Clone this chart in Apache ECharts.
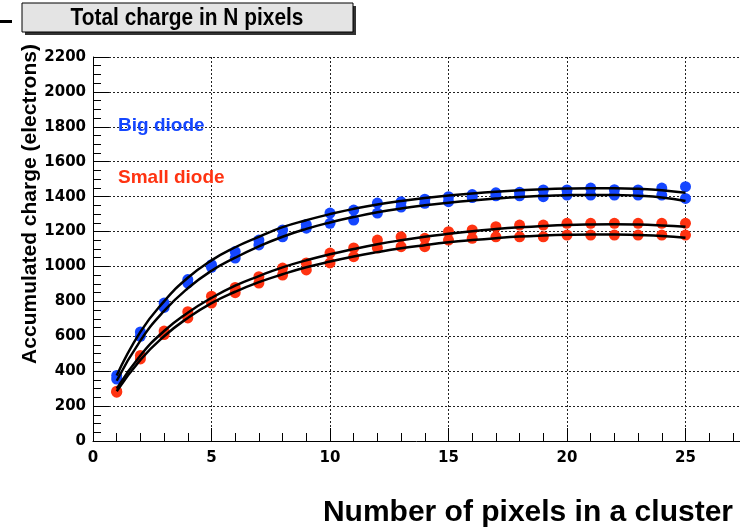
<!DOCTYPE html>
<html lang="en">

<head>
  <meta charset="UTF-8">
  <title>Total charge in N pixels</title>
  <style>
    html, body { margin: 0; padding: 0; background: #fff; }
    #chart { width: 740px; height: 531px; }
  </style>
</head>

<body>
  <div id="chart"></div>
  <script src="https://cdn.jsdelivr.net/npm/echarts@6/dist/echarts.min.js"></script>
  <script>
    // number of pixels in a cluster
    var pixels = [1, 2, 3, 4, 5, 6, 7, 8, 9, 10, 11, 12, 13, 14, 15, 16, 17, 18, 19, 20, 21, 22, 23, 24, 25];

    // measured points (two runs per diode type)
    var bigHigh = [375, 625, 790, 925, 1010, 1085, 1151, 1209, 1240, 1306, 1323, 1363, 1370, 1385, 1400, 1412, 1422, 1425, 1438, 1438, 1449, 1440, 1438, 1449, 1457];
    var bigLow = [355, 600, 765, 905, 995, 1048, 1123, 1170, 1219, 1247, 1266, 1306, 1340, 1362, 1371, 1395, 1405, 1405, 1400, 1409, 1409, 1409, 1409, 1409, 1390];
    var smallHigh = [285, 490, 630, 741, 830, 880, 941, 991, 1020, 1077, 1106, 1151, 1170, 1161, 1199, 1209, 1228, 1237, 1237, 1247, 1247, 1247, 1247, 1247, 1247];
    var smallLow = [280, 470, 610, 705, 790, 850, 905, 951, 980, 1020, 1056, 1106, 1113, 1113, 1151, 1161, 1170, 1170, 1170, 1180, 1180, 1180, 1180, 1180, 1180];

    // fitted curves
    var bigFitHigh = [375, 625, 800, 935, 1035, 1110, 1170, 1225, 1265, 1300, 1330, 1355, 1375, 1392, 1406, 1418, 1428, 1436, 1442, 1446, 1448, 1448, 1445, 1437, 1422];
    var bigFitLow = [345, 575, 745, 875, 975, 1050, 1115, 1170, 1215, 1252, 1283, 1310, 1332, 1350, 1365, 1378, 1389, 1398, 1404, 1408, 1410, 1410, 1405, 1395, 1375];
    var smallFitHigh = [300, 490, 630, 735, 820, 890, 945, 995, 1035, 1070, 1100, 1127, 1150, 1170, 1187, 1202, 1214, 1224, 1232, 1238, 1241, 1242, 1240, 1235, 1228];
    var smallFitLow = [285, 465, 600, 705, 790, 855, 910, 955, 995, 1028, 1057, 1082, 1104, 1122, 1138, 1151, 1162, 1171, 1177, 1181, 1183, 1183, 1180, 1175, 1165];

    var BLUE = '#1446ff';
    var RED = '#ff3311';
    var X_MAX = 27.3; // frame is cut off at the right edge of the picture

    function pairs(ys) {
      return pixels.map(function (x, i) { return [x, ys[i]]; });
    }

    function dots(ys, color) {
      return {
        type: 'scatter',
        data: pairs(ys),
        symbolSize: 11,
        itemStyle: { color: color, opacity: 1 },
        z: 2,
        silent: true
      };
    }

    function fit(ys) {
      return {
        type: 'line',
        data: pairs(ys),
        smooth: true,
        showSymbol: false,
        lineStyle: { color: '#000', width: 2.5 },
        z: 3,
        silent: true
      };
    }

    function plain(v) { return String(v); }

    var labelFont = {
      color: '#000',
      fontFamily: 'DejaVu Sans',
      fontWeight: 'bold',
      fontSize: 15,
      formatter: plain
    };

    var myChart = echarts.init(document.getElementById('chart'));
    myChart.setOption({
      animation: false,
      grid: { left: 93, top: 57, bottom: 90, right: 0 },
      xAxis: [{
        type: 'value',
        min: 0,
        max: X_MAX,
        interval: 5,
        axisLine: { lineStyle: { color: '#000', width: 1 } },
        axisTick: { inside: true, length: 13, lineStyle: { color: '#000' } },
        splitLine: { show: true, lineStyle: { color: '#222', type: [2, 2], width: 1 } },
        axisLabel: Object.assign({ margin: 10, showMaxLabel: false }, labelFont)
      }, {
        // second axis only for the small ticks at every pixel
        type: 'value',
        position: 'bottom',
        min: 0,
        max: X_MAX,
        interval: 1,
        axisLine: { show: false },
        axisTick: { show: true, inside: true, length: 8, lineStyle: { color: '#000' } },
        splitLine: { show: false },
        axisLabel: { show: false }
      }],
      yAxis: {
        type: 'value',
        min: 0,
        max: 2200,
        interval: 200,
        axisLine: { show: true, lineStyle: { color: '#000', width: 1 } },
        axisTick: { show: true, inside: true, length: 16, lineStyle: { color: '#000' } },
        minorTick: { show: true, splitNumber: 4, length: 8, lineStyle: { color: '#000' } },
        splitLine: { show: true, lineStyle: { color: '#222', type: [2, 2], width: 1 } },
        axisLabel: Object.assign({ margin: 7 }, labelFont)
      },
      series: [
        dots(bigHigh, BLUE),
        dots(bigLow, BLUE),
        dots(smallHigh, RED),
        dots(smallLow, RED),
        fit(bigFitHigh),
        fit(bigFitLow),
        fit(smallFitHigh),
        fit(smallFitLow)
      ],
      graphic: [
        // title box with shadow
        { type: 'rect', shape: { x: 25, y: 6, width: 331, height: 29 }, style: { fill: '#333' }, z: 10 },
        { type: 'rect', shape: { x: 22, y: 3, width: 331, height: 29 }, style: { fill: '#e4e4e4', stroke: '#000', lineWidth: 1 }, z: 11 },
        {
          type: 'text', x: 187, y: 18, z: 12, scaleX: 0.87,
          style: {
            text: 'Total charge in N pixels', fill: '#000',
            font: 'bold 24px "Liberation Sans", Arial, sans-serif',
            align: 'center', verticalAlign: 'middle'
          }
        },
        { type: 'rect', shape: { x: 0, y: 20, width: 12, height: 3 }, style: { fill: '#000' }, z: 10 },
        {
          type: 'text', x: 118, y: 126, z: 12,
          style: {
            text: 'Big diode', fill: BLUE,
            font: 'bold 19px "Liberation Sans", Arial, sans-serif',
            verticalAlign: 'middle'
          }
        },
        {
          type: 'text', x: 118, y: 178, z: 12,
          style: {
            text: 'Small diode', fill: RED,
            font: 'bold 19px "Liberation Sans", Arial, sans-serif',
            verticalAlign: 'middle'
          }
        },
        {
          type: 'text', x: 30, y: 204, rotation: Math.PI / 2, z: 12,
          style: {
            text: 'Accumulated charge (electrons)', fill: '#000',
            font: 'bold 21px "Liberation Sans", Arial, sans-serif',
            align: 'center', verticalAlign: 'middle'
          }
        },
        {
          type: 'text', x: 733, y: 513, z: 12,
          style: {
            text: 'Number of pixels in a cluster', fill: '#000',
            font: 'bold 30px "Liberation Sans", Arial, sans-serif',
            align: 'right', verticalAlign: 'middle'
          }
        }
      ]
    });
  </script>
</body>

</html>
